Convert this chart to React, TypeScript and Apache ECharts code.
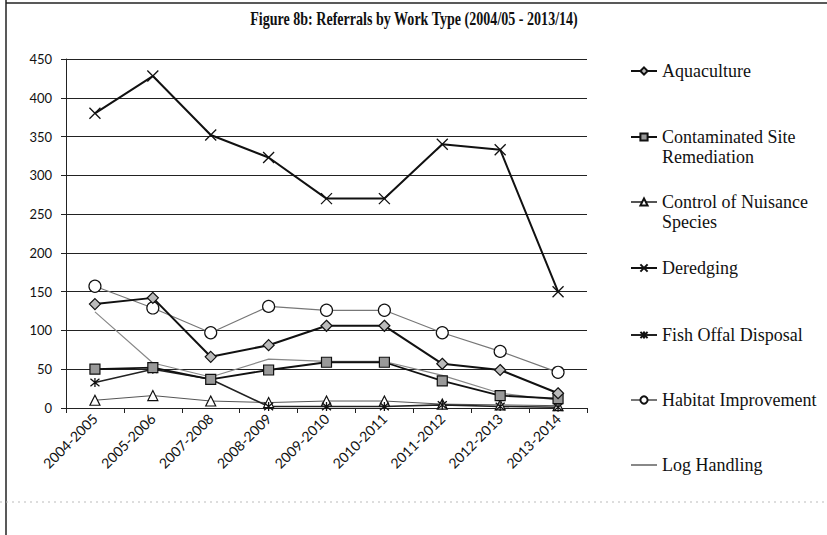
import React, { useEffect, useRef } from "react";
import * as echarts from "echarts";

const categories = ["2004-2005", "2005-2006", "2007-2008", "2008-2009", "2009-2010", "2010-2011", "2011-2012", "2012-2013", "2013-2014"];
const aquaculture = [134, 142, 66, 81, 106, 106, 57, 49, 19];
const contaminatedSite = [50, 52, 37, 49, 59, 59, 35, 16, 12];
const nuisanceSpecies = [10, 16, 9, 7, 9, 9, 5, 4, 3];
const deredging = [380, 428, 352, 323, 270, 270, 340, 333, 150];
const fishOffal = [33, 50, 37, 2, 2, 2, 4, 2, 1];
const habitat = [157, 129, 97, 131, 126, 126, 97, 73, 46];
const logHandling = [124, 58, 40, 63, 60, 60, 42, 19, 10];
const yTicks = { min: 0, max: 450, interval: 50 };
const titleText = "Figure 8b: Referrals by Work Type (2004/05 - 2013/14)";

const SERIF = '"Liberation Serif", "Times New Roman", serif';
const SANS = 'Lato, "Liberation Sans", sans-serif';

const X_SYMBOL = "path://M0,0L10,10M10,0L0,10";
const AST_SYMBOL = "path://M0,0L10,10M10,0L0,10M5,-1L5,11";

export default function App() {
  const ref = useRef<HTMLDivElement>(null);
  useEffect(() => {
    if (!ref.current) return;
    const chart = echarts.init(ref.current, null, { renderer: "svg" });

    const mk = (name: string, data: number[], o: any) => ({
      name,
      type: "line",
      data,
      symbol: o.symbol,
      symbolSize: o.symbolSize,
      showSymbol: o.symbol !== "none",
      z: o.z || 2,
      lineStyle: { color: o.lineColor, width: o.lineWidth },
      itemStyle: { color: o.fill, borderColor: o.border, borderWidth: o.borderWidth ?? 1.2 },
      emphasis: { disabled: true },
    });

    const series = [
      mk("Log Handling", logHandling, { symbol: "none", lineColor: "#888", lineWidth: 1.2, fill: "#888", border: "#888", z: 1 }),
      mk("Control of Nuisance Species", nuisanceSpecies, { symbol: "triangle", symbolSize: 10, lineColor: "#555", lineWidth: 1, fill: "#fff", border: "#111" }),
      mk("Fish Offal Disposal", fishOffal, { symbol: AST_SYMBOL, symbolSize: 9, lineColor: "#222", lineWidth: 1.6, fill: "none", border: "#111", borderWidth: 1.3 }),
      mk("Contaminated Site Remediation", contaminatedSite, { symbol: "rect", symbolSize: 10, lineColor: "#111", lineWidth: 1.8, fill: "#999", border: "#111" }),
      mk("Habitat Improvement", habitat, { symbol: "circle", symbolSize: 12, lineColor: "#777", lineWidth: 1.2, fill: "#fff", border: "#111" }),
      mk("Aquaculture", aquaculture, { symbol: "diamond", symbolSize: 11, lineColor: "#111", lineWidth: 2, fill: "#bbb", border: "#111" }),
      mk("Deredging", deredging, { symbol: X_SYMBOL, symbolSize: 11, lineColor: "#111", lineWidth: 2, fill: "none", border: "#111", borderWidth: 1.3 }),
    ];

    const legendItems: { name: string; label: string; y: number; lines: number }[] = [
      { name: "Aquaculture", label: "Aquaculture", y: 71, lines: 1 },
      { name: "Contaminated Site Remediation", label: "\nContaminated Site\nRemediation", y: 137, lines: 3 },
      { name: "Control of Nuisance Species", label: "\nControl of Nuisance\nSpecies", y: 202, lines: 3 },
      { name: "Deredging", label: "Deredging", y: 268, lines: 1 },
      { name: "Fish Offal Disposal", label: "Fish Offal Disposal", y: 335, lines: 1 },
      { name: "Habitat Improvement", label: "Habitat Improvement", y: 400, lines: 1 },
      { name: "Log Handling", label: "Log Handling", y: 465, lines: 1 },
    ];

    const legends = legendItems.map((it) => ({
      show: true,
      orient: "vertical",
      left: 630,
      top: it.y - (it.lines * 20) / 2,
      padding: 0,
      itemWidth: 26,
      itemHeight: 9,
      itemGap: 0,
      selectedMode: false,
      data: [it.name === "Log Handling" ? { name: it.name, itemStyle: { opacity: 0 } } : it.name],
      formatter: () => it.label,
      textStyle: {
        fontFamily: SERIF,
        fontSize: 18,
        color: "#111",
        lineHeight: 20,
      },
    }));

    chart.setOption({
      animation: false,
      backgroundColor: "#fff",
      legend: legends,
      grid: { left: 66, right: 240, top: 59, bottom: 127, containLabel: false },
      xAxis: {
        type: "category",
        data: categories,
        boundaryGap: true,
        axisLine: { lineStyle: { color: "#222", width: 1 } },
        axisTick: { show: true, length: 5, lineStyle: { color: "#222" } },
        axisLabel: { rotate: 45, fontFamily: SANS, fontSize: 14, color: "#111", margin: 8 },
      },
      yAxis: {
        type: "value",
        min: yTicks.min,
        max: yTicks.max,
        interval: yTicks.interval,
        axisLine: { show: true, lineStyle: { color: "#222", width: 1 } },
        axisTick: { show: true, length: 5, lineStyle: { color: "#222" } },
        axisLabel: { fontFamily: SANS, fontSize: 13, color: "#111", margin: 14 },
        splitLine: { show: true, lineStyle: { color: "#222", width: 1.2 } },
      },
      graphic: [
        {
          type: "text",
          x: 414,
          y: 19,
          scaleX: 0.74,
          style: {
            text: titleText,
            font: `bold 19px ${SERIF}`,
            fill: "#111",
            textAlign: "center",
            textVerticalAlign: "middle",
          },
        },
        { type: "line", shape: { x1: 6, y1: 0, x2: 6, y2: 535 }, style: { stroke: "#222", lineWidth: 1.5 } },
        { type: "line", shape: { x1: 6, y1: 3, x2: 827, y2: 3 }, style: { stroke: "#222", lineWidth: 1.5 } },
        { type: "line", shape: { x1: 0, y1: 502, x2: 827, y2: 502 }, style: { stroke: "#bbb", lineWidth: 1, lineDash: [2, 4] } },
      ],
      series,
    });
    return () => chart.dispose();
  }, []);
  return <div ref={ref} style={{ position: "fixed", left: 0, top: 0, width: 827, height: 535 }} />;
}
